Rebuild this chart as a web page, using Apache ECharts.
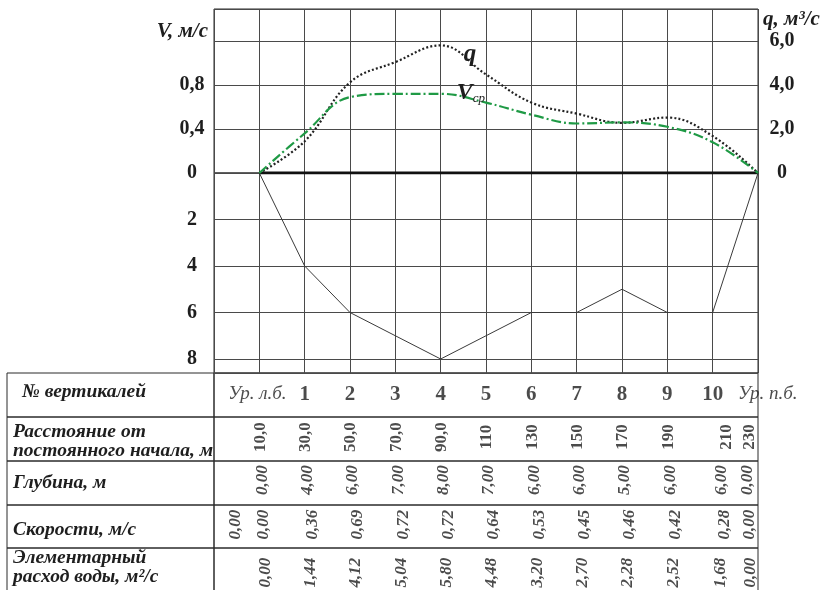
<!DOCTYPE html>
<html><head><meta charset="utf-8">
<script src="https://cdn.jsdelivr.net/npm/echarts@6/dist/echarts.min.js"></script>
<style>html,body{margin:0;padding:0;background:#fff}#c{width:827px;height:590px}</style>
</head><body><div id="c"></div>
<script>
// ---------- data ----------
const verticalNames = ['Ур. л.б.','1','2','3','4','5','6','7','8','9','10','Ур. п.б.'];
const distances = [10,30,50,70,90,110,130,150,170,190,210,230];
const depths = [0,4,6,7,8,7,6,6,5,6,6,0];
const velocities = [0,0.36,0.69,0.72,0.72,0.64,0.53,0.45,0.46,0.42,0.28,0];
const discharges = [0,1.44,4.12,5.04,5.80,4.48,3.20,2.70,2.28,2.52,1.68,0];
const distanceLabels = ['10,0','30,0','50,0','70,0','90,0','110','130','150','170','190','210','230'];
const depthLabels = ['0,00','4,00','6,00','7,00','8,00','7,00','6,00','6,00','5,00','6,00','6,00','0,00'];
const velocityLabels = ['0,00\n0,00','0,36','0,69','0,72','0,72','0,64','0,53','0,45','0,46','0,42','0,28','0,00'];
const dischargeLabels = ['0,00','1,44','4,12','5,04','5,80','4,48','3,20','2,70','2,28','2,52','1,68','0,00'];
const vTickLabels = ['0','0,4','0,8'];
const qTickLabels = ['0','2,0','4,0','6,0'];
const depthTickLabels = ['2','4','6','8'];
const rowHeaders = ['№ вертикалей','Расстояние от\nпостоянного начала, м','Глубина, м','Скорости, м/с','Элементарный\nрасход воды, м²/с'];
const vAxisName = 'V, м/с';
const qAxisName = 'q, м³/с';
const qCurveName = 'q';
const vCurveName = 'V';
const vCurveSub = 'ср';

// ---------- layout / style ----------
const FONT = '"Liberation Serif","Times New Roman",serif';
const L = 214, W = 544, TOP = 9, ZERO_Y = 173, TABLE_TOP = 373;
const rowTops = [373, 417, 461, 505, 548];
const rowBottom = 593;
const PX_PER_V = 110;     // 0.4 m/s per 44 px
const PX_PER_M = 23.25;   // 2 m per 46.5 px
const vMax = (ZERO_Y - TOP) / PX_PER_V;
const qMax = vMax * 5;
const depthMax = (TABLE_TOP - ZERO_Y) / PX_PER_M;
const GRID_COLOR = '#4a4a4a';
const LINE_COLOR = '#2a2a2a';
const TEXT = '#1e1e1e';

const fmt1 = v => Math.abs(v) < 1e-9 ? '0' : (Math.round(v * 10) / 10).toFixed(1).replace('.', ',');

const gridRects = [
  {top: TOP, height: ZERO_Y - TOP},
  {top: ZERO_Y, height: TABLE_TOP - ZERO_Y},
  ...rowTops.map((t, i) => ({top: t, height: (i + 1 < rowTops.length ? rowTops[i + 1] : rowBottom) - t}))
];
const grids = gridRects.map(g => ({
  left: L, width: W, top: g.top, height: g.height,
  show: true, borderColor: LINE_COLOR, borderWidth: 1, backgroundColor: 'transparent',
  containLabel: false, outerBoundsMode: 'none'
}));

const xAxes = gridRects.map((g, i) => ({
  type: 'value', gridIndex: i, min: -10, max: 230, interval: 20,
  axisLine: {show: false}, axisTick: {show: false}, axisLabel: {show: false},
  splitLine: {show: i < 2, lineStyle: {color: GRID_COLOR, width: 1}}
}));

const axisLabelStyle = {fontFamily: FONT, fontWeight: 'bold', fontSize: 20, color: TEXT};
const yAxes = [
  { // V
    type: 'value', gridIndex: 0, position: 'left', min: 0, max: vMax, interval: 0.4,
    axisLine: {show: false}, axisTick: {show: false},
    axisLabel: Object.assign({align: 'center', margin: 22,
      formatter: v => { const s = fmt1(v); return vTickLabels.includes(s) ? s : ''; }}, axisLabelStyle),
    splitLine: {show: true, lineStyle: {color: GRID_COLOR, width: 1}}
  },
  { // q
    type: 'value', gridIndex: 0, position: 'right', min: 0, max: qMax, interval: 2,
    axisLine: {show: false}, axisTick: {show: false},
    axisLabel: Object.assign({align: 'center', margin: 24,
      formatter: v => { const s = fmt1(v); return qTickLabels.includes(s) ? s : ''; }}, axisLabelStyle),
    splitLine: {show: false}
  },
  { // depth
    type: 'value', gridIndex: 1, position: 'left', inverse: true, min: 0, max: depthMax, interval: 2,
    axisLine: {show: false}, axisTick: {show: false},
    axisLabel: Object.assign({align: 'center', margin: 22,
      formatter: v => { const s = String(Math.round(v)); return (Math.abs(v - Math.round(v)) < 1e-6 && depthTickLabels.includes(s)) ? s : ''; }}, axisLabelStyle),
    splitLine: {show: true, lineStyle: {color: GRID_COLOR, width: 1}}
  },
  ...rowTops.map((t, i) => ({type: 'value', gridIndex: 2 + i, min: -1, max: 1, show: false}))
];

// ---------- curves ----------
const series = [];
series.push({
  type: 'line', xAxisIndex: 0, yAxisIndex: 0, silent: true, symbol: 'none', z: 3,
  data: [[distances[0], 0], [distances[distances.length - 1], 0]],
  lineStyle: {color: '#111', width: 3}
});
series.push({
  type: 'line', xAxisIndex: 0, yAxisIndex: 1, silent: true, smooth: 0.4, z: 4,
  symbol: 'circle', symbolSize: 0, showSymbol: true,
  data: distances.map((d, i) => {
    const item = {value: [d, discharges[i]]};
    if (i === 4) item.label = {show: true, position: 'right', offset: [18, 9], formatter: qCurveName,
      fontFamily: FONT, fontSize: 25, fontWeight: 'bold', fontStyle: 'italic', color: TEXT};
    return item;
  }),
  lineStyle: {color: '#222', width: 2.2, type: [2, 2.2]},
  itemStyle: {color: 'transparent'}
});
series.push({
  type: 'line', xAxisIndex: 0, yAxisIndex: 0, silent: true, smooth: 0.4, z: 4,
  symbol: 'circle', symbolSize: 0, showSymbol: true,
  data: distances.map((d, i) => {
    const item = {value: [d, velocities[i]]};
    if (i === 4) item.label = {show: true, position: 'right', offset: [11, -1],
      formatter: '{v|' + vCurveName + '}{s|' + vCurveSub + '}',
      rich: {
        v: {fontFamily: FONT, fontSize: 24, fontWeight: 'bold', fontStyle: 'italic', color: TEXT, lineHeight: 24, verticalAlign: 'top'},
        s: {fontFamily: FONT, fontSize: 13, fontStyle: 'italic', color: TEXT, lineHeight: 13, padding: [19, 0, 0, 0], verticalAlign: 'bottom'}
      }};
    return item;
  }),
  lineStyle: {color: '#1f9a45', width: 2.2, type: [10, 3, 2, 3]},
  itemStyle: {color: 'transparent'}
});
series.push({
  type: 'line', xAxisIndex: 1, yAxisIndex: 2, silent: true, symbol: 'none', z: 3,
  data: distances.map((d, i) => [d, depths[i]]),
  lineStyle: {color: '#3a3a3a', width: 1}
});

// ---------- table rows ----------
// sx / sy: horizontal / vertical screen shifts of the labels (px)
const rowSpecs = [
  {labels: verticalNames, rotate: 0, weight: 'bold', style: 'normal', size: 21, sx: 0, sy: 0},
  {labels: distanceLabels, rotate: 90, weight: 'bold', style: 'normal', size: 17, sx: 1, tail: [14, -8], sy: -2},
  {labels: depthLabels, rotate: 90, weight: 'bold', style: 'italic', size: 17, sx: 3, tail: [9, -10], sy: -3},
  {labels: velocityLabels, rotate: 90, weight: 'bold', style: 'italic', size: 17, sx: 8, tail: [12, -8], head: -10, sy: -2},
  {labels: dischargeLabels, rotate: 90, weight: 'bold', style: 'italic', size: 17, sx: 6, tail: [8, -7], sy: 2}
];
rowSpecs.forEach((spec, r) => {
  const n = spec.labels.length;
  series.push({
    type: 'scatter', xAxisIndex: 2 + r, yAxisIndex: 3 + r, silent: true,
    symbol: 'circle', symbolSize: 1, itemStyle: {color: 'transparent'},
    data: distances.map((d, i) => {
      let sx = spec.sx;
      if (spec.tail && i === n - 2) sx = spec.tail[0];
      if (spec.tail && i === n - 1) sx = spec.tail[1];
      if (spec.head !== undefined && i === 0) sx = spec.head;
      // label offset is applied in the rotated frame
      const off = spec.rotate === 90 ? [-spec.sy, sx] : [sx, spec.sy];
      const lab = {show: true, position: 'inside', rotate: spec.rotate, offset: off,
        formatter: spec.labels[i], fontFamily: FONT, fontSize: spec.size, fontWeight: spec.weight,
        fontStyle: spec.style, color: TEXT, lineHeight: 28};
      if (r === 0 && spec.labels[i].indexOf('Ур') === 0) {
        lab.fontWeight = 'normal'; lab.fontStyle = 'italic'; lab.fontSize = 19;
        if (i === 0) lab.offset = [-2, -1];
        else { lab.align = 'left'; lab.offset = [-20, -1]; }
      }
      return {value: [d, 0], label: lab};
    })
  });
});

// ---------- header column + axis titles (graphic text) ----------
const headerX = [22, 13, 13, 13, 13];
const headerY = [392, 441, 483, 530, 567];
const graphic = [];
rowTops.forEach((t, i) => {
  const h = (i + 1 < rowTops.length ? rowTops[i + 1] : rowBottom) - t;
  graphic.push({type: 'rect', silent: true, shape: {x: 7, y: t, width: L - 7, height: h},
    style: {fill: 'none', stroke: LINE_COLOR, lineWidth: 1}});
  graphic.push({type: 'text', silent: true, x: headerX[i], y: headerY[i],
    style: {text: rowHeaders[i], font: 'italic bold 19.5px ' + FONT, fill: TEXT,
      align: 'left', verticalAlign: 'middle', lineHeight: 19}});
});
graphic.push({type: 'text', silent: true, x: L - 6, y: 32,
  style: {text: vAxisName, font: 'italic bold 21px ' + FONT, fill: TEXT, align: 'right', verticalAlign: 'middle'}});
graphic.push({type: 'text', silent: true, x: L + W + 5, y: 20,
  style: {text: qAxisName, font: 'italic bold 21px ' + FONT, fill: TEXT, align: 'left', verticalAlign: 'middle'}});

const chart = echarts.init(document.getElementById('c'), null, {renderer: 'canvas'});
chart.setOption({
  animation: false,
  backgroundColor: '#fff',
  grid: grids, xAxis: xAxes, yAxis: yAxes, series: series, graphic: graphic
});
</script></body></html>
